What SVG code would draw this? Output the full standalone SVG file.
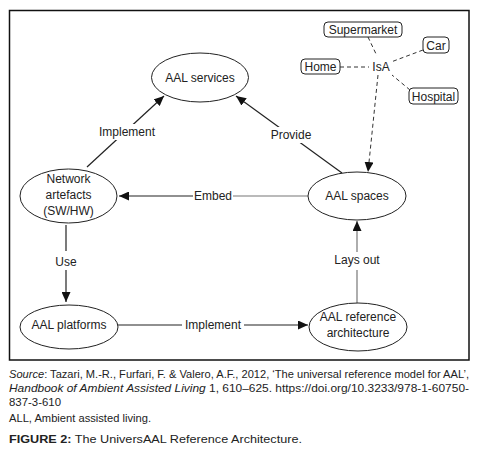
<svg xmlns="http://www.w3.org/2000/svg" width="483" height="456" viewBox="0 0 483 456">
<style>
.n{fill:#fff;stroke:#222;stroke-width:1}
.t{font-family:"Liberation Sans",Arial,sans-serif;font-size:12px;fill:#222;text-anchor:middle}
.c{stroke:#222;stroke-width:1.2;fill:none}
.g{stroke:#777;stroke-width:1.2;fill:none}
.d{stroke:#333;stroke-width:1;fill:none;stroke-dasharray:4 3}
.cap{font-family:"Liberation Sans",Arial,sans-serif;font-size:10.5px;fill:#222}
.bg{fill:#fff}
</style>
<defs>
<marker id="ah" markerUnits="userSpaceOnUse" markerWidth="11" markerHeight="9" refX="10" refY="4.5" orient="auto">
<path d="M0,0 L10,4.5 L0,9 z" fill="#111"/>
</marker>
</defs>
<rect x="9.5" y="10.5" width="459.5" height="349.5" fill="#fff" stroke="#111" stroke-width="1.5"/>

<g id="connectors">
<line class="c" x1="87" y1="167" x2="164" y2="96" marker-end="url(#ah)"/>
<rect class="bg" x="97" y="124" width="62" height="16"/>
<text class="t" x="127" y="136">Implement</text>

<line class="c" x1="342" y1="173" x2="236" y2="96" marker-end="url(#ah)"/>
<rect class="bg" x="268" y="127" width="46" height="16"/>
<text class="t" x="291" y="139">Provide</text>

<line class="g" x1="308" y1="196" x2="233" y2="196"/>
<line class="c" x1="193" y1="196" x2="119" y2="196" marker-end="url(#ah)"/>
<text class="t" x="213" y="200">Embed</text>

<line class="c" x1="66" y1="225" x2="66" y2="251"/>
<line class="c" x1="66" y1="270" x2="66" y2="302" marker-end="url(#ah)"/>
<text class="t" x="66" y="266">Use</text>

<line class="c" x1="118" y1="325" x2="182" y2="325"/>
<line class="c" x1="244" y1="325" x2="308" y2="325" marker-end="url(#ah)"/>
<text class="t" x="213" y="329">Implement</text>

<line class="g" x1="357" y1="304" x2="357" y2="270"/>
<line class="g" x1="357" y1="252" x2="357" y2="221" marker-end="url(#ah)"/>
<text class="t" x="357" y="264">Lays out</text>

<line class="d" x1="378" y1="75" x2="368" y2="172" marker-end="url(#ah)"/>
<line class="d" x1="340" y1="67" x2="369" y2="67"/>
<line class="d" x1="368" y1="37" x2="377" y2="56"/>
<line class="d" x1="423" y1="50" x2="391" y2="62"/>
<line class="d" x1="410" y1="90" x2="392" y2="75"/>
<text class="t" x="381" y="71">IsA</text>
</g>

<g id="aal-services"><ellipse class="n" cx="200" cy="77.5" rx="48.5" ry="24.5"/><text class="t" x="200" y="81.5">AAL services</text></g>
<g id="network-artefacts"><ellipse class="n" cx="68.5" cy="196" rx="48.5" ry="27"/><text class="t" x="68.5" y="183">Network</text><text class="t" x="68.5" y="199">artefacts</text><text class="t" x="68.5" y="215">(SW/HW)</text></g>
<g id="aal-spaces"><ellipse class="n" cx="357" cy="196" rx="49" ry="24"/><text class="t" x="357" y="200">AAL spaces</text></g>
<g id="aal-platforms"><ellipse class="n" cx="69" cy="327" rx="49" ry="22"/><text class="t" x="69" y="329">AAL platforms</text></g>
<g id="aal-reference"><ellipse class="n" cx="358" cy="327" rx="49" ry="24"/><text class="t" x="358" y="321">AAL reference</text><text class="t" x="358" y="337">architecture</text></g>

<g id="supermarket"><rect class="n" x="324" y="22" width="78" height="15" rx="4"/><text class="t" x="363" y="34">Supermarket</text></g>
<g id="car"><rect class="n" x="423" y="37" width="26" height="16" rx="4"/><text class="t" x="436" y="49.5">Car</text></g>
<g id="home"><rect class="n" x="301" y="59" width="39" height="15" rx="4"/><text class="t" x="320.5" y="71">Home</text></g>
<g id="hospital"><rect class="n" x="409" y="88" width="49" height="16" rx="4"/><text class="t" x="433.5" y="100.5">Hospital</text></g>

<g id="caption">
<text class="cap" x="9" y="378" textLength="460" lengthAdjust="spacingAndGlyphs"><tspan font-style="italic">Source</tspan>: Tazari, M.-R., Furfari, F. &amp; Valero, A.F., 2012, ‘The universal reference model for AAL’,</text>
<text class="cap" x="9" y="391.5" textLength="460" lengthAdjust="spacingAndGlyphs"><tspan font-style="italic">Handbook of Ambient Assisted Living</tspan> 1, 610–625. https://doi.org/10.3233/978-1-60750-</text>
<text class="cap" x="9" y="405.5" textLength="52" lengthAdjust="spacingAndGlyphs">837-3-610</text>
<text class="cap" x="9" y="422" textLength="142" lengthAdjust="spacingAndGlyphs">ALL, Ambient assisted living.</text>
<text class="cap" x="9" y="443" font-size="13.5" textLength="293" lengthAdjust="spacingAndGlyphs"><tspan font-weight="bold">FIGURE 2:</tspan> The UniversAAL Reference Architecture.</text>
</g>
</svg>
